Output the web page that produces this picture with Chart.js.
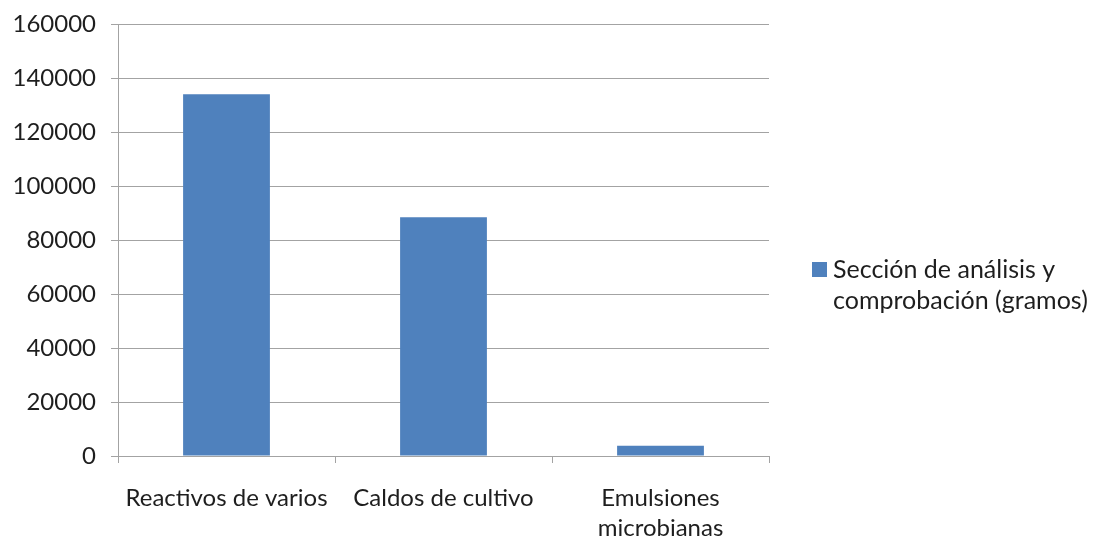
<!DOCTYPE html>
<html>
<head>
<meta charset="utf-8">
<script src="https://cdn.jsdelivr.net/npm/chart.js@4.4.0/dist/chart.umd.min.js"></script>
<style>
html,body{margin:0;padding:0;background:#fff;}
#wrap{width:1096px;height:541px;position:relative;}
</style>
</head>
<body>
<div id="wrap"><canvas id="c" width="1096" height="541"></canvas></div>
<script>
const categories = [['Reactivos de varios'], ['Caldos de cultivo'], ['Emulsiones', 'microbianas']];
const seriesName = 'Sección de análisis y comprobación (gramos)';
const legendLines = ['Sección de análisis y', 'comprobación (gramos)'];
const values = [134000, 88400, 3800];
const yTicks = [0, 20000, 40000, 60000, 80000, 100000, 120000, 140000, 160000];

const FONT = 'Lato, "Open Sans", sans-serif';
const TEXT = '#1e1e1e';
const GRID = '#a3a3a3';
const BAR = '#4F81BD';

const legendPlugin = {
  id: 'sideLegend',
  afterDraw(chart) {
    const ctx = chart.ctx;
    ctx.save();
    const x0 = 812, y0 = 262;
    ctx.fillStyle = BAR;
    ctx.fillRect(x0, y0, 15, 15);
    ctx.fillStyle = TEXT;
    ctx.font = '25px ' + FONT;
    ctx.textBaseline = 'middle';
    ctx.textAlign = 'left';
    legendLines.forEach((l, i) => ctx.fillText(l, 833, 270 + i * 31));
    ctx.restore();
  }
};

new Chart(document.getElementById('c'), {
  type: 'bar',
  data: {
    labels: categories,
    datasets: [{
      label: seriesName,
      data: values,
      backgroundColor: BAR,
      borderWidth: 0,
      categoryPercentage: 1,
      barPercentage: 0.4
    }]
  },
  options: {
    responsive: false,
    animation: false,
    devicePixelRatio: 1,
    layout: { padding: { left: 0, right: 327, top: 24, bottom: 0 } },
    plugins: { legend: { display: false }, tooltip: { enabled: false } },
    scales: {
      x: {
        grid: { offset: true, drawOnChartArea: false, drawTicks: true, tickLength: 7, color: GRID, lineWidth: 1 },
        border: { color: GRID, width: 1 },
        ticks: { color: TEXT, font: { family: FONT, size: 24, lineHeight: 1.25 }, padding: 20, maxRotation: 0, autoSkip: false },
        afterFit(s) { s.height = 85; s.paddingLeft = 0; s.paddingRight = 0; }
      },
      y: {
        min: 0, max: 160000,
        afterBuildTicks(s) { s.ticks = yTicks.map(v => ({ value: v })); },
        grid: { color: GRID, lineWidth: 1, tickLength: 7, drawTicks: true },
        border: { color: GRID, width: 1 },
        ticks: { color: TEXT, font: { family: FONT, size: 24 }, padding: 15, callback: v => String(v) },
        afterFit(s) { s.width = 118; s.paddingTop = 0; s.paddingBottom = 0; }
      }
    }
  },
  plugins: [legendPlugin]
});
</script>
</body>
</html>
